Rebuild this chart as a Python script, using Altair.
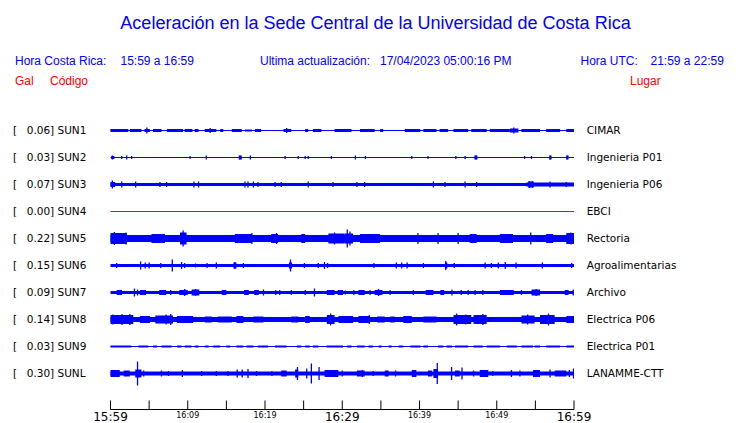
import altair as alt
import pandas as pd

# ---------------- data ----------------
TITLE = "Aceleración en la Sede Central de la Universidad de Costa Rica"
STATIONS = ["SUN1", "SUN2", "SUN3", "SUN4", "SUN5", "SUN6", "SUN7", "SUN8", "SUN9", "SUNL"]
PEAK_GAL = ["0.06", "0.03", "0.07", "0.00", "0.22", "0.15", "0.09", "0.14", "0.03", "0.30"]
PLACES = ["CIMAR", "Ingenieria P01", "Ingenieria P06", "EBCI", "Rectoria",
          "Agroalimentarias", "Archivo", "Electrica P06", "Electrica P01", "LANAMME-CTT"]
TRACE_COLORS = ["#0000ff", "#0000ff", "#0000ff", "#ff0000", "#0000ff",
                "#0000ff", "#0000ff", "#0000ff", "#0000ff", "#0000ff"]
# half thickness of the continuous background noise of each trace
BASE_HALF = [0.5, 0.5, 1.5, 0.5, 3.5, 1.5, 1.5, 2.5, 0.5, 2.0]

# minutes after 15:59 (start, end, half amplitude)
SUN1_BURSTS = [(0, 2.3, 1.5), (2.5, 4.0, 1.5), (4.4, 5.1, 1.5), (5.5, 6.6, 1.5), (7.3, 9.4, 1.5),
               (9.6, 10.6, 1.5), (10.9, 11.4, 1.5), (12.2, 13.7, 1.5), (14.2, 14.6, 1.5),
               (15.7, 17.0, 1.5), (17.4, 18.3, 1), (18.7, 19.5, 1.5), (22.4, 23.4, 1.5),
               (25.2, 25.6, 1.5), (26.2, 27.3, 1.5), (29.0, 31.2, 1.5), (32.3, 34.2, 1.5),
               (34.9, 35.3, 1.5), (38.1, 40.1, 1.5), (40.5, 42.2, 1.5), (42.6, 43.7, 1.5),
               (44.4, 46.3, 1.5), (46.7, 48.7, 1.5), (49.1, 51.7, 1.5), (51.7, 52.8, 2),
               (53.2, 55.6, 1.5), (56.4, 58.2, 1.5), (59.0, 60, 1.5)]
SUN1_SPIKES = [(4.7, 3), (12.9, 2.5), (22.8, 2.5), (52.2, 3)]

SUN2_BURSTS = [(0.1, 0.5, 1.5), (16.6, 17.0, 2), (47.1, 47.5, 2), (56.8, 57.1, 2), (59.0, 59.3, 2)]
SUN2_SPIKES = [(0.24, 2), (1.45, 1.5), (2.1, 2), (2.74, 1.5), (10.3, 1.5), (12.4, 2), (16.75, 2),
               (18.1, 2), (22.6, 1.5), (24.3, 1.5), (25.2, 1.5), (25.6, 1.5), (28.6, 1.5),
               (31.7, 2), (33.0, 1.5), (39.0, 1.5), (41.1, 1.5), (44.7, 1.5), (45.9, 1.5),
               (47.3, 2), (53.6, 1.5), (54.5, 1.5), (56.9, 2), (59.1, 2)]

SUN3_BURSTS = [(0, 0.6, 2.5), (53.8, 60, 2), (54.1, 54.8, 3)]
SUN3_SPIKES = [(0.24, 4), (1.45, 3), (3.26, 3), (6.4, 2.5), (7.26, 2.5), (10.8, 3), (11.4, 3),
               (17.4, 3), (17.8, 3), (18.5, 3), (19.1, 2.5), (21.3, 2.5), (22.1, 2.5), (25.6, 3),
               (28.8, 2.5), (31.9, 2.5), (32.9, 2.5), (41.8, 3), (43.3, 2.5), (45.9, 3),
               (47.4, 2.5), (54.2, 3.5), (54.6, 3.5), (56.9, 3), (59.0, 2.5)]

SUN4_BURSTS = []
SUN4_SPIKES = []

SUN5_BURSTS = [(0, 2.1, 5.5), (5.3, 7.05, 4.5), (9.0, 9.85, 6), (16.1, 18.3, 4.5), (20.8, 21.7, 4.5),
               (24.7, 25.2, 4.5), (28.2, 30.3, 5), (30.3, 31.4, 5), (32.3, 34.9, 4.5),
               (46.5, 47.4, 4.5), (50.4, 52.1, 4.5), (56.4, 57.3, 4.5), (59.0, 60, 5.5)]
SUN5_SPIKES = [(0.5, 6.5), (2.0, 6), (9.4, 8), (18.3, 5.5), (21.5, 5.5), (29.0, 6), (30.65, 9),
               (31.0, 7), (39.8, 5.5), (42.4, 5.5), (45.0, 5.5), (54.4, 6), (59.6, 6)]

SUN6_BURSTS = [(15.9, 16.3, 3), (23.1, 23.5, 3), (43.3, 43.6, 3)]
SUN6_SPIKES = [(0.8, 2.5), (3.9, 4), (4.5, 3), (5.0, 3), (6.5, 2.5), (8.0, 6), (9.2, 3.5), (9.6, 2.5),
               (11.0, 2), (12.5, 2.5), (13.7, 3), (16.1, 3.5), (17.2, 2.5), (23.3, 6), (25.1, 2.5),
               (26.9, 2.5), (27.7, 3.5), (28.1, 2.5), (34.1, 2.5), (37.0, 3), (37.7, 3), (38.4, 3),
               (40.5, 2.5), (43.4, 4.5), (44.5, 2.5), (48.5, 3), (49.3, 2.5), (50.2, 3),
               (51.1, 3.5), (52.5, 3), (55.9, 3), (59.7, 2.5)]

SUN7_BURSTS = [(0.8, 1.5, 2.5), (3.8, 4.6, 2.5), (6.3, 7.2, 2.5), (8.9, 10.0, 2.5), (10.5, 11.5, 3),
               (14.4, 15.0, 2.5), (17.3, 17.9, 2.5), (18.6, 19.2, 2.5), (28.0, 29.0, 2.5),
               (29.4, 30.1, 2.5), (32.1, 32.9, 2.5), (34.2, 35.2, 2.5), (40.8, 41.8, 2.5),
               (42.7, 43.2, 2.5), (50.4, 52.2, 2.5), (54.5, 55.6, 3), (58.8, 59.3, 2.5)]
SUN7_SPIKES = [(3.1, 4), (3.5, 3), (7.8, 2.5), (9.6, 3.5), (11.0, 3.5), (19.8, 3), (21.4, 2.5),
               (21.9, 2.5), (23.4, 2.5), (25.2, 2.5), (26.4, 4), (30.4, 2), (31.5, 2.5),
               (33.6, 2.5), (34.7, 3.5), (36.2, 2.5), (39.2, 2.5), (44.2, 3), (45.4, 2.5),
               (46.3, 2.5), (47.2, 2.5), (48.2, 2.5), (53.2, 2.5), (55.1, 3.5), (59.9, 3)]

SUN8_BURSTS = [(0, 2.95, 4.5), (3.8, 5.1, 3.5), (5.8, 8.1, 4), (8.6, 10.7, 3.5), (12.2, 13.1, 3),
               (13.9, 15.7, 3), (16.3, 17.2, 3.5), (18.5, 19.8, 3), (23.4, 24.3, 3),
               (25.2, 25.8, 3.5), (28.0, 29.0, 4.5), (29.5, 31.4, 3.5), (32.1, 33.6, 3.5),
               (34.5, 35.5, 3), (36.2, 36.8, 3), (37.9, 39.0, 3.5), (40.5, 42.2, 3),
               (44.4, 46.7, 4.5), (47.0, 48.7, 4.5), (53.2, 54.9, 4), (55.6, 57.5, 4.5), (59.0, 60, 3.5)]
SUN8_SPIKES = [(0.3, 5), (1.5, 5.5), (2.5, 5.5), (7.2, 5), (7.8, 5.5), (28.5, 6), (33.5, 4.5),
               (44.8, 6), (46.0, 5), (48.2, 5.5), (54.0, 5), (56.7, 6)]

SUN9_BURSTS = [(0, 2.7, 1), (3.6, 4.9, 1), (5.5, 6.0, 1), (6.6, 7.9, 1), (8.6, 9.2, 1), (9.6, 10.5, 1),
               (10.9, 11.4, 1), (12.2, 12.7, 1), (13.3, 14.2, 1), (15.0, 15.5, 1), (16.3, 17.2, 1),
               (17.6, 18.5, 1), (19.1, 20.4, 1), (21.3, 22.8, 1), (24.1, 24.7, 1), (25.2, 25.8, 1),
               (26.2, 26.9, 1), (27.95, 30.1, 1), (30.6, 31.2, 1), (31.9, 32.9, 1), (33.4, 34.0, 1),
               (34.7, 35.1, 1), (36.0, 36.4, 1), (37.3, 37.9, 1), (38.8, 40.1, 1), (40.5, 41.1, 1),
               (42.4, 43.1, 1), (43.5, 44.2, 1), (44.6, 46.3, 1), (47.0, 48.2, 1), (48.7, 50.4, 1),
               (51.3, 52.6, 1), (53.2, 54.7, 1), (54.9, 55.6, 1), (56.4, 58.2, 1), (59.0, 60, 1)]
SUN9_SPIKES = []

SUNL_BURSTS = [(0, 1.2, 3.5), (1.7, 2.5, 3), (3.2, 4.0, 4), (22.1, 22.8, 3), (23.9, 24.3, 4),
               (27.7, 29.5, 3.5), (31.9, 32.9, 3), (35.5, 36.0, 3), (39.0, 39.6, 3.5),
               (41.1, 41.6, 3), (41.8, 42.4, 4.5), (44.6, 45.2, 3), (47.8, 48.9, 3.5),
               (54.7, 55.6, 3.5), (57.5, 59.0, 3), (59.85, 60, 5)]
SUNL_SPIKES = [(3.5, 12), (4.3, 3), (6.6, 3), (7.5, 2.5), (9.3, 3.5), (11.8, 2.5), (13.7, 2.5),
               (15.2, 2.5), (16.4, 4), (17.05, 4), (17.8, 4.5), (18.9, 2.5), (20.9, 2.5),
               (24.2, 6.5), (25.4, 5), (26.0, 10), (27.0, 6.5), (30.0, 3), (32.6, 3.5), (34.0, 2.5),
               (36.9, 3), (42.3, 10.5), (44.15, 6.5), (45.5, 6), (47.0, 3), (49.5, 2.5),
               (51.9, 3.5), (53.0, 3), (56.9, 4), (59.4, 3.5)]

BURSTS = [SUN1_BURSTS, SUN2_BURSTS, SUN3_BURSTS, SUN4_BURSTS, SUN5_BURSTS,
          SUN6_BURSTS, SUN7_BURSTS, SUN8_BURSTS, SUN9_BURSTS, SUNL_BURSTS]
SPIKES = [SUN1_SPIKES, SUN2_SPIKES, SUN3_SPIKES, SUN4_SPIKES, SUN5_SPIKES,
          SUN6_SPIKES, SUN7_SPIKES, SUN8_SPIKES, SUN9_SPIKES, SUNL_SPIKES]

TICK_MINUTES = [0, 5, 10, 15, 20, 25, 30, 35, 40, 45, 50, 55, 60]
LABEL_MINUTES = [0, 10, 20, 30, 40, 50, 60]
TICK_LABELS = ["15:59", "16:09", "16:19", "16:29", "16:39", "16:49", "16:59"]
BIG_LABELS = [True, False, False, True, False, False, True]

# ---------------- layout ----------------
W, H = 724, 415
ROW_GAP = 27
PX0, PX1 = 102.5, 566.0          # plot x of minute 0 and minute 60
ROW0_Y = 122.5                    # plot y of first trace
ppm = (PX1 - PX0) / 60.0
XDOM = [-PX0 / ppm, (W - PX0) / ppm]
YDOM = [ROW0_Y - H, ROW0_Y]       # 1 unit = 1 px, row i centred at -ROW_GAP*i

xs = alt.Scale(domain=XDOM, nice=False, zero=False)
ys = alt.Scale(domain=YDOM, nice=False, zero=False)

rows_base, rows_burst, rows_spike, rows_lab = [], [], [], []
for i, st in enumerate(STATIONS):
    c = -ROW_GAP * i
    col = TRACE_COLORS[i]
    rows_base.append(dict(st=st, t0=0, t1=60, lo=c - BASE_HALF[i], hi=c + BASE_HALF[i], col=col))
    for (a, b, h) in BURSTS[i]:
        rows_burst.append(dict(st=st, t0=a, t1=b, lo=c - h, hi=c + h, col=col))
    for (t, h) in SPIKES[i]:
        rows_spike.append(dict(st=st, t=t, lo=c - h, hi=c + h, col=col))
    rows_lab.append(dict(st=st, yc=c, left=f"{PEAK_GAL[i]}] {st}", place=PLACES[i]))

base_df = pd.DataFrame(rows_base)
burst_df = pd.DataFrame(rows_burst)
spike_df = pd.DataFrame(rows_spike)
lab_df = pd.DataFrame(rows_lab)

colr = alt.Color("col:N", scale=None)

base = alt.Chart(base_df).mark_rect().encode(
    x=alt.X("t0:Q", scale=xs, axis=None), x2="t1:Q",
    y=alt.Y("lo:Q", scale=ys, axis=None), y2="hi:Q", color=colr)
bursts = alt.Chart(burst_df).mark_rect().encode(
    x=alt.X("t0:Q", scale=xs, axis=None), x2="t1:Q",
    y=alt.Y("lo:Q", scale=ys, axis=None), y2="hi:Q", color=colr)
spikes = alt.Chart(spike_df).mark_rule(strokeWidth=1.3).encode(
    x=alt.X("t:Q", scale=xs, axis=None),
    y=alt.Y("lo:Q", scale=ys, axis=None), y2="hi:Q", color=colr)

LFONT = "DejaVu Sans"
bracket = alt.Chart(lab_df).mark_text(text="[", align="left", baseline="middle",
                                      font=LFONT, fontSize=10.5, color="black").encode(
    x=alt.value(5), y=alt.Y("yc:Q", scale=ys, axis=None))
left_lab = alt.Chart(lab_df).mark_text(align="left", baseline="middle",
                                       font=LFONT, fontSize=10.5, color="black").encode(
    x=alt.value(18.7), y=alt.Y("yc:Q", scale=ys, axis=None), text="left:N")
right_lab = alt.Chart(lab_df).mark_text(align="left", baseline="middle",
                                        font=LFONT, fontSize=10.5, color="black").encode(
    x=alt.value(578.7), y=alt.Y("yc:Q", scale=ys, axis=None), text="place:N")

# time axis
tick_df = pd.DataFrame({"t": TICK_MINUTES})
ticks = alt.Chart(tick_df).mark_rule(color="black", strokeWidth=1).encode(
    x=alt.X("t:Q", scale=xs, axis=None), y=alt.value(392.5), y2=alt.value(401.5))
axis_line = alt.Chart(pd.DataFrame({"a": [0], "b": [60]})).mark_rule(color="black", strokeWidth=1).encode(
    x=alt.X("a:Q", scale=xs, axis=None), x2="b:Q", y=alt.value(401.5))
lab_t = pd.DataFrame({"t": LABEL_MINUTES, "lab": TICK_LABELS, "big": BIG_LABELS})
big_lab = alt.Chart(lab_t[lab_t.big]).mark_text(align="center", baseline="alphabetic",
                                               font=LFONT, fontSize=12, color="black").encode(
    x=alt.X("t:Q", scale=xs, axis=None), y=alt.value(412.7), text="lab:N")
small_lab = alt.Chart(lab_t[~lab_t.big]).mark_text(align="center", baseline="alphabetic",
                                                  font=LFONT, fontSize=8, color="black").encode(
    x=alt.X("t:Q", scale=xs, axis=None), y=alt.value(409.5), text="lab:N")

# header texts
HFONT = "Liberation Sans"
one = pd.DataFrame({"a": [0]})


def txt(s, x, y, color, size, align="left"):
    return alt.Chart(one).mark_text(text=s, align=align, baseline="alphabetic", font=HFONT,
                                    fontSize=size, color=color).encode(x=alt.value(x), y=alt.value(y))


BLUE, RED = "#0000ff", "#ff0000"
header = [
    txt(TITLE, 367.5, 20.5, BLUE, 18, "center"),
    txt("Hora Costa Rica:", 7, 57, BLUE, 12),
    txt("15:59 a 16:59", 112.5, 57, BLUE, 12),
    txt("Ultima actualización:", 252, 57, BLUE, 12),
    txt("17/04/2023 05:00:16 PM", 372, 57, BLUE, 12),
    txt("Hora UTC:", 572.5, 57, BLUE, 12),
    txt("21:59 a 22:59", 642.5, 57, BLUE, 12),
    txt("Gal", 7, 77, RED, 12),
    txt("Código", 42, 77, RED, 12),
    txt("Lugar", 622, 77, RED, 12),
]

chart = alt.layer(
    base, bursts, spikes, bracket, left_lab, right_lab,
    ticks, axis_line, big_lab, small_lab, *header
).properties(
    width=W, height=H, padding=0, autosize=alt.AutoSizeParams(type="none")
).configure_view(stroke=None)

chart.save("out.html", embed_options={"renderer": "svg", "actions": False})
